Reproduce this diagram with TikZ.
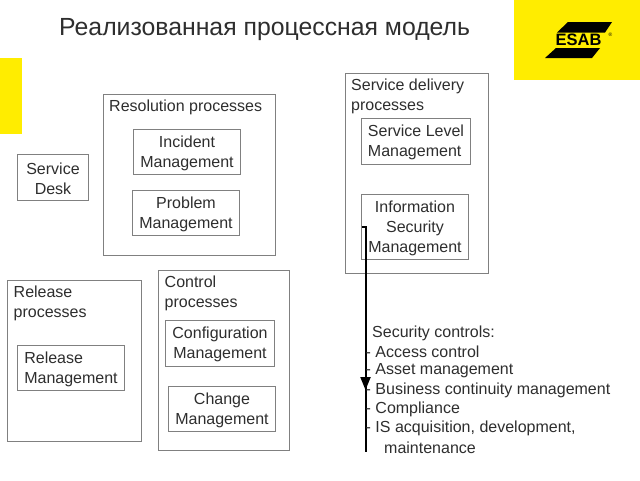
\documentclass[tikz,border=0pt]{standalone}
\usepackage{fontspec}
\setmainfont{Liberation Sans}
\usetikzlibrary{arrows.meta,decorations.markings}
\definecolor{esabyellow}{HTML}{FFED00}
\definecolor{boxline}{HTML}{808080}
\definecolor{inktext}{HTML}{2E2E2E}
\tikzset{
  x=1pt,y=-1pt,
  areabox/.style={draw=boxline,line width=1.2pt,fill=white},
  procbox/.style={draw=boxline,line width=1.2pt,fill=white,inner sep=0pt},
  proctext/.style={inner sep=0pt,yshift=-1.2pt,font=\fontsize{16}{20}\selectfont,text=inktext},
  arealabel/.style={anchor=north west,align=left,inner sep=0pt,
    font=\fontsize{16}{20}\selectfont,text=inktext},
  listtext/.style={anchor=west,inner sep=0pt,font=\fontsize{16}{19}\selectfont,text=inktext},
}
\newcommand{\procnode}[7]{%
  \node[procbox,minimum width=#4pt,minimum height=#5pt] (#1) at (#2,#3) {};
  \node[proctext,align=#6] (#1text) at (#1.center) {#7};}
\begin{document}
\begin{tikzpicture}
\useasboundingbox (0,0) rectangle (640,480);
\fill[white] (0,0) rectangle (640,480);

% corporate colour blocks
\fill[esabyellow] (514,0) rectangle (640,80);
\fill[esabyellow] (0,58) rectangle (22,134);

% logo
\fill[black] (557,32.5) -- (568,22) -- (612,22) -- (605,32.5) -- cycle;
\fill[black] (545,58) -- (556,48) -- (600,48) -- (592,58) -- cycle;
\node[inner sep=0pt,font=\bfseries\fontsize{16.5}{17}\selectfont] (logotext) at (578.5,40) {ESAB};
\node[inner sep=0pt,font=\fontsize{5}{5}\selectfont] (logomark) at (610.5,35) {®};

% heading
\node[anchor=west,inner sep=0pt,font=\fontsize{24.8}{28}\selectfont,text=inktext] (title) at (59,29.5)
  {Реализованная процессная модель};

% process groups
\draw[areabox] (103.5,94.5) rectangle (275.5,255.5);
\node[arealabel] (reslabel) at (109,99.5) {Resolution processes};
\procnode{incident}{187}{152}{107}{45}{center}{Incident\\Management}
\procnode{problem}{186}{213}{107}{45}{center}{Problem\\Management}

\procnode{desk}{53}{177.5}{71}{46}{center}{Service\\Desk}

\draw[areabox] (345.5,73.5) rectangle (488.5,273.5);
\node[arealabel] (dellabel) at (351,79) {Service delivery\\processes};
\procnode{level}{416}{141.5}{109}{46}{left}{Service Level\\Management}
\procnode{security}{415}{227}{107}{65}{center}{Information\\Security\\Management}

\draw[areabox] (7.5,280.5) rectangle (141.5,441.5);
\node[arealabel] (rellabel) at (13.5,285.5) {Release\\processes};
\procnode{release}{71}{368}{107}{45}{left}{Release\\Management}

\draw[areabox] (158.5,270.5) rectangle (289.5,450.5);
\node[arealabel] (ctllabel) at (164.5,275.5) {Control\\processes};
\procnode{config}{220}{343.5}{109}{46}{center}{Configuration\\Management}
\procnode{change}{222}{409}{107}{45}{center}{Change\\Management}

% link from the security box down to the controls
\coordinate (hook) at (361.5,226.5);
\coordinate (linkend) at (365.5,452);
\draw[boxline,line width=0.8pt] (366.5,325) -- (366.5,345);
\draw[black,line width=2pt,
  postaction={decorate,decoration={markings,mark=at position 0.73 with {\arrow{Triangle[length=13pt,width=10pt]}}}}]
  (hook) -- (365.5,226.5) -- (linkend);

% list of controls
\node[listtext] (c0) at (372,333) {Security controls:};
\node[listtext] (c1) at (365.5,352) {- Access control};
\node[listtext] (c2) at (365.5,371) {- Asset management};
\node[listtext] (c3) at (365.5,390.5) {- Business continuity management};
\node[listtext] (c4) at (365.5,409.5) {- Compliance};
\node[listtext] (c5) at (365.5,428.5) {- IS acquisition, development,};
\node[listtext] (c6) at (384,448) {maintenance};
\end{tikzpicture}
\end{document}
